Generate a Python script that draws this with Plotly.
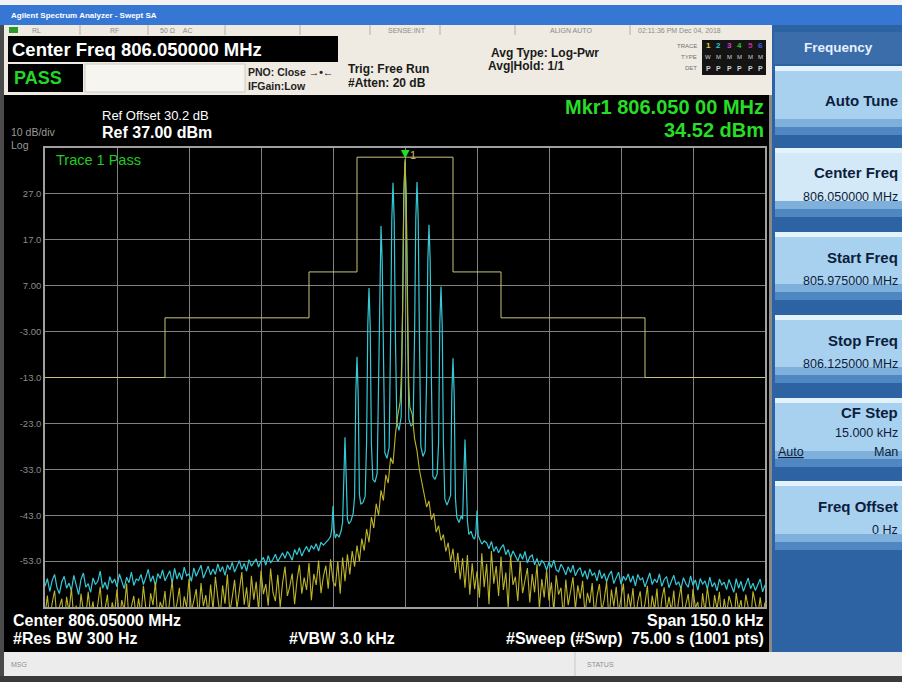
import numpy as np
import plotly.graph_objects as go

# ---------------- data (frequency offset from 806.05 MHz in kHz, level in dBm) ----------------
x_range_khz = [-75, 75]
x_grid_khz = [-60, -45, -30, -15, 0, 15, 30, 45, 60]
y_range_dbm = [-63, 37]
y_tick_vals = [27, 17, 7, -3, -13, -23, -33, -43, -53]
y_tick_text = ["27.0", "17.0", "7.00", "-3.00", "-13.0", "-23.0", "-33.0", "-43.0", "-53.0"]

limit_khz = [-75, -50, -50, -20, -20, -10, -10, 10, 10, 20, 20, 50, 50, 75]
limit_dbm = [-13, -13, 0, 0, 10, 10, 35, 35, 10, 10, 0, 0, -13, -13]

marker_khz = 0.0
marker_dbm = 34.52

# cyan trace: left skirt (-75 .. -17 kHz, 0.5 kHz steps)
cyan_left_dbm = [
    -58.5, -56.8, -59.6, -57.2, -55.9, -58.8, -60.1, -57.5, -56.3, -58.9,
    -57.8, -59.4, -56.1, -58.2, -60.3, -57.0, -55.6, -58.7, -57.9, -59.8,
    -56.7, -58.1, -57.4, -55.2, -58.9, -57.6, -59.2, -56.4, -57.8, -56.9,
    -58.6, -55.8, -57.3, -59.0, -56.5, -57.7, -55.4, -58.3, -56.9, -57.2,
    -55.9, -58.1, -56.6, -54.8, -57.5, -56.2, -58.4, -55.7, -56.8, -54.9,
    -57.3, -56.0, -55.1, -57.8, -54.6, -56.9, -55.5, -57.1, -54.3, -56.2,
    -55.8, -57.4, -54.5, -56.3, -55.0, -53.9, -56.7, -55.2, -54.1, -56.0,
    -54.7, -55.9, -53.6, -55.3, -54.2, -56.1, -53.8, -54.9, -53.3, -55.4,
    -54.0, -52.9, -54.8, -53.5, -55.2, -52.7, -54.1, -53.2, -52.5, -54.3,
    -53.0, -52.2, -53.9, -51.8, -53.4, -52.6, -51.5, -53.1, -52.0, -51.2,
    -52.4, -50.9, -51.7, -52.8, -50.5, -51.6, -50.1, -51.9, -50.7, -49.8,
    -51.0, -49.6, -50.4, -49.2, -50.8, -48.9, -49.5,
]
# cyan trace: comb of spectral lines (explicit points)
cyan_center_khz = [
    -16.5, -16.0, -15.5, -15.25, -15.0, -14.75, -14.5, -14.2, -13.75, -13.3,
    -13.0, -12.75, -12.5, -12.25, -12.0, -11.7, -11.25, -10.8, -10.5, -10.25,
    -10.0, -9.75, -9.5, -9.2, -8.75, -8.3, -8.0, -7.75, -7.5, -7.25,
    -7.0, -6.7, -6.25, -5.8, -5.5, -5.25, -5.0, -4.75, -4.5, -4.2,
    -3.75, -3.3, -3.0, -2.75, -2.5, -2.25, -2.0, -1.7, -1.25, -0.8,
    -0.5, -0.25, 0.0, 0.25, 0.5, 0.8, 1.25, 1.7, 2.0, 2.25,
    2.5, 2.75, 3.0, 3.3, 3.75, 4.2, 4.5, 4.75, 5.0, 5.25,
    5.5, 5.8, 6.25, 6.7, 7.0, 7.25, 7.5, 7.75, 8.0, 8.3,
    8.75, 9.2, 9.5, 9.75, 10.0, 10.25, 10.5, 10.8, 11.25, 11.7,
    12.0, 12.25, 12.5, 12.75, 13.0, 13.3, 13.75, 14.2, 14.5, 14.75,
    15.0, 15.25, 15.5, 16.0, 16.5,
]
cyan_center_dbm = [
    -49.0, -48.4, -47.6, -46.0, -41.0, -46.3, -48.0, -47.1, -47.8, -46.4,
    -44.5, -34.0, -26.0, -34.5, -43.8, -44.9, -44.2, -42.6, -39.0, -16.5,
    -8.5, -16.8, -38.5, -40.6, -40.2, -38.9, -27.0, -1.5, 6.5, -1.8,
    -27.5, -35.2, -35.8, -33.9, -13.0, 12.0, 20.0, 12.2, -13.5, -29.4,
    -30.6, -28.2, -3.8, 21.4, 29.4, 21.3, -4.0, -22.8, -24.5, -21.6,
    1.5, 26.5, 34.0, 26.4, 1.2, -22.0, -23.6, -23.1, -3.2, 21.6,
    29.6, 21.5, -3.6, -28.0, -30.2, -29.0, -13.2, 12.3, 20.3, 12.1,
    -13.4, -34.5, -35.2, -34.0, -27.2, -1.2, 6.8, -1.5, -27.4, -39.5,
    -40.8, -39.6, -38.7, -16.9, -8.8, -16.6, -39.2, -43.5, -44.6, -43.2,
    -43.9, -34.6, -26.5, -34.3, -44.2, -47.2, -46.5, -47.9, -48.2, -47.0,
    -42.0, -47.4, -48.1, -49.3, -48.6,
]
# cyan trace: right skirt (17 .. 75 kHz)
cyan_right_dbm = [
    -49.0, -50.3, -48.7, -50.9, -49.8, -51.2, -50.1, -49.4, -51.6, -50.5,
    -52.3, -50.8, -51.9, -53.0, -51.4, -52.6, -50.9, -53.4, -52.1, -51.7,
    -53.8, -52.4, -54.1, -52.9, -53.5, -55.0, -53.2, -54.4, -52.8, -54.9,
    -55.3, -53.7, -54.6, -56.0, -54.2, -55.5, -53.9, -56.2, -55.0, -54.4,
    -56.4, -55.1, -57.0, -54.7, -56.1, -55.6, -57.3, -54.9, -56.8, -55.7,
    -57.5, -56.0, -55.2, -57.9, -56.6, -55.4, -58.0, -56.3, -57.2, -55.8,
    -57.6, -56.2, -58.4, -55.9, -57.1, -56.7, -58.6, -57.3, -55.6, -58.1,
    -56.9, -57.7, -55.8, -58.5, -57.0, -56.4, -58.8, -57.4, -56.1, -58.2,
    -57.5, -59.0, -56.6, -57.9, -58.7, -56.2, -58.3, -57.1, -59.3, -56.8,
    -58.0, -57.3, -59.1, -56.5, -58.6, -57.7, -59.5, -56.9, -58.2, -57.6,
    -59.2, -57.0, -58.5, -59.8, -56.8, -58.9, -57.4, -59.6, -58.1, -56.7,
    -59.0, -57.8, -59.4, -58.3, -56.9, -59.7, -58.2,
]

# yellow trace (Trace 1): left (-75 .. -15 kHz, 0.5 kHz steps)
yellow_left_dbm = [
    -64.8, -60.5, -66.2, -62.1, -59.4, -65.7, -63.0, -61.2, -67.0, -60.8,
    -64.1, -58.9, -65.5, -62.7, -66.8, -60.1, -63.9, -65.2, -59.7, -64.6,
    -61.8, -66.5, -62.4, -58.6, -65.1, -63.5, -60.3, -66.9, -62.0, -64.3,
    -59.2, -65.8, -61.5, -63.7, -57.9, -66.0, -62.9, -60.6, -65.3, -61.1,
    -64.7, -58.4, -63.2, -66.3, -60.0, -62.6, -57.6, -65.6, -61.9, -63.4,
    -59.5, -66.1, -61.3, -57.3, -64.4, -62.2, -58.8, -65.9, -60.7, -63.1,
    -56.9, -64.0, -61.6, -59.1, -65.4, -57.8, -62.8, -60.4, -64.9, -58.1,
    -63.6, -56.4, -61.0, -65.0, -58.3, -62.3, -55.9, -64.2, -60.9, -57.1,
    -63.3, -59.6, -55.4, -62.5, -58.7, -64.5, -56.2, -61.4, -57.5, -63.8,
    -55.1, -60.2, -58.0, -62.7, -54.6, -59.9, -61.7, -56.0, -63.0, -57.7,
    -54.2, -60.6, -58.5, -55.7, -62.4, -57.2, -53.8, -60.1, -56.6, -59.3,
    -53.4, -61.5, -55.8, -58.2, -52.9, -60.0, -56.3, -54.0, -59.0, -52.6, -57.4,
]
yellow_center_khz = [
    -14.5, -14.0, -13.5, -13.0, -12.5, -12.0, -11.5, -11.0, -10.5, -10.0,
    -9.5, -9.0, -8.5, -8.0, -7.5, -7.0, -6.5, -6.0, -5.5, -5.0,
    -4.5, -4.0, -3.5, -3.0, -2.5, -2.0, -1.5, -1.0, -0.75, -0.5,
    -0.25, 0.0, 0.25, 0.5, 0.75, 1.0, 1.5, 2.0, 2.5, 3.0,
    3.5, 4.0, 4.5, 5.0, 5.5, 6.0, 6.5, 7.0, 7.5, 8.0,
    8.5, 9.0, 9.5, 10.0, 10.5, 11.0, 11.5, 12.0, 12.5, 13.0,
    13.5, 14.0, 14.5,
]
yellow_center_dbm = [
    -58.5, -53.0, -60.1, -52.2, -57.4, -51.5, -55.9, -50.8, -54.2, -49.6,
    -53.0, -48.1, -50.7, -46.0, -48.9, -43.4, -45.8, -40.5, -43.0, -37.6,
    -39.8, -34.2, -36.0, -30.5, -31.8, -25.4, -21.2, -18.3, -12.0, 1.8,
    26.8, 34.52, 26.2, 0.9, -13.5, -19.4, -21.0, -26.3, -29.0, -33.1,
    -35.8, -38.4, -41.2, -39.9, -44.0, -42.6, -46.7, -45.3, -48.5, -47.2,
    -50.9, -49.0, -53.1, -50.3, -55.6, -51.2, -57.0, -52.4, -58.8, -51.7,
    -60.3, -53.5, -59.1,
]
yellow_right_dbm = [
    -55.2, -61.0, -51.3, -58.7, -53.6, -62.4, -50.8, -57.9, -54.1, -60.6,
    -52.0, -59.3, -55.5, -63.1, -51.9, -58.2, -56.4, -61.7, -53.0, -60.0,
    -57.2, -54.5, -62.0, -55.8, -59.8, -53.7, -63.4, -56.9, -60.9, -55.0,
    -61.6, -57.6, -64.0, -56.1, -60.3, -58.8, -65.2, -57.0, -62.6, -59.5,
    -56.5, -63.5, -58.3, -61.2, -57.3, -64.6, -59.9, -62.1, -57.8, -65.0,
    -60.7, -58.0, -63.8, -61.4, -57.5, -66.0, -59.2, -62.9, -58.6, -64.3,
    -61.0, -57.9, -65.5, -60.1, -63.0, -58.9, -66.3, -61.8, -59.6, -64.8,
    -62.2, -58.4, -65.7, -60.5, -63.6, -59.0, -66.6, -61.3, -58.7, -64.0,
    -60.8, -63.9, -59.4, -66.1, -61.6, -58.5, -64.7, -62.5, -60.2, -65.3,
    -59.1, -63.2, -61.9, -66.8, -60.0, -64.1, -58.8, -62.8, -65.9, -60.4,
    -63.5, -59.7, -66.4, -61.2, -64.5, -60.6, -62.4, -67.0, -59.9, -63.7,
    -61.5, -65.6, -60.3, -63.0, -66.2, -59.6, -62.7, -64.9, -60.9, -65.1, -62.0,
]

# ---------------- assemble traces ----------------
cyan_x = np.concatenate([np.linspace(-75, -17, len(cyan_left_dbm)),
                         np.array(cyan_center_khz),
                         np.linspace(17, 75, len(cyan_right_dbm))])
cyan_y = np.concatenate([cyan_left_dbm, cyan_center_dbm, cyan_right_dbm])
yel_x = np.concatenate([np.linspace(-75, -15, len(yellow_left_dbm)),
                        np.array(yellow_center_khz),
                        np.linspace(15, 75, len(yellow_right_dbm))])
yel_y = np.concatenate([yellow_left_dbm, yellow_center_dbm, yellow_right_dbm])

FONT = "Liberation Sans"
FW, FH = 902, 682
L, R, T, B = 45, 765, 148, 607
W, H = R - L, B - T


def px(x):
    return (x - L) / W


def py(y):
    return (B - y) / H


shapes = []
annotations = []


def rect(x0, y0, x1, y1, color, lc=None, lw=0):
    shapes.append(dict(type="rect", xref="paper", yref="paper",
                       x0=px(x0), x1=px(x1), y0=py(y1), y1=py(y0),
                       fillcolor=color, line=dict(color=lc or color, width=lw),
                       layer="above"))


def vline(x, y0, y1, color, w=1):
    shapes.append(dict(type="line", xref="paper", yref="paper",
                       x0=px(x), x1=px(x), y0=py(y1), y1=py(y0),
                       line=dict(color=color, width=w)))


def txt(x, y, s, size, color, anchor="left", bold=False):
    annotations.append(dict(xref="paper", yref="paper", x=px(x), y=py(y),
                            text=("<b>%s</b>" % s) if bold else s,
                            showarrow=False, xanchor=anchor, yanchor="middle",
                            font=dict(family=FONT, size=size, color=color)))


fig = go.Figure()
fig.add_trace(go.Scatter(x=limit_khz, y=limit_dbm, mode="lines",
                         line=dict(color="#c9c27a", width=1), hoverinfo="skip"))
fig.add_trace(go.Scatter(x=cyan_x, y=cyan_y, mode="lines",
                         line=dict(color="#35c9d6", width=1.2), hoverinfo="skip"))
fig.add_trace(go.Scatter(x=yel_x, y=yel_y, mode="lines",
                         line=dict(color="#bdb42a", width=1.1), hoverinfo="skip"))

# marker
annotations.append(dict(x=marker_khz, y=marker_dbm, xref="x", yref="y", text="▼",
                        showarrow=False, yanchor="bottom", yshift=-3,
                        font=dict(family="DejaVu Sans", size=11, color="#22e022")))
annotations.append(dict(x=marker_khz, y=marker_dbm, xref="x", yref="y", text="1",
                        showarrow=False, xanchor="left", yanchor="bottom", xshift=3, yshift=-4,
                        font=dict(family=FONT, size=11, color="#c9c070")))

# ---------------- chrome ----------------
rect(0, 0, FW, 5, "#f2f2f2")
rect(0, 5, FW, 25, "#3677d4")
txt(9, 15, "Agilent Spectrum Analyzer - Swept SA", 8, "#ffffff", bold=True)
rect(0, 25, 4, FH, "#4a4a4a")
# status row
rect(4, 25, 772, 35, "#efebe2")
rect(9, 27, 18, 33, "#2a9a2a")
for sx in [80, 148, 225, 300, 370, 440, 515, 630]:
    vline(sx, 25, 35, "#b5b0a5")
for sx, s in [(30, "RL"), (108, "RF"), (158, "50 Ω    AC"), (386, "SENSE:INT"),
              (548, "ALIGN AUTO"), (636, "02:11:36 PM Dec 04, 2018")]:
    txt(sx, 30, s, 7, "#8a8a8a")
# header
rect(4, 35, 772, 95, "#efebe2")
rect(85, 64, 245, 92, "#f7f5f0", "#cfcac0", 1)
rect(8, 36, 338, 62, "#000000")
txt(10, 49, "Center Freq 806.050000 MHz", 18.5, "#ffffff", bold=True)
rect(8, 64, 83, 92, "#000000")
txt(12, 78, "PASS", 18, "#26d626", bold=True)
txt(246, 72, "PNO: Close →•←", 10.5, "#222222", bold=True)
txt(246, 86, "IFGain:Low", 10.5, "#222222", bold=True)
txt(346, 69, "Trig: Free Run", 12, "#1a1a1a", bold=True)
txt(346, 83, "#Atten: 20 dB", 12, "#1a1a1a", bold=True)
txt(489, 53, "Avg Type: Log-Pwr", 12, "#1a1a1a", bold=True)
txt(486, 66, "Avg|Hold: 1/1", 12, "#1a1a1a", bold=True)
txt(699, 46, "TRACE", 6, "#707070", anchor="right")
txt(699, 57, "TYPE", 6, "#707070", anchor="right")
txt(699, 68, "DET", 6, "#707070", anchor="right")
rect(702, 40, 766, 75, "#141414")
trace_cols = ["#e0d040", "#30c8d0", "#d040d0", "#30c030", "#c03090", "#4060e0"]
for i, c in enumerate(trace_cols):
    xx = 708 + i * 10.5
    txt(xx, 46, str(i + 1), 8, c, anchor="center", bold=True)
    txt(xx, 57, "W" if i == 0 else "M", 6, "#d0d0d0", anchor="center")
    txt(xx, 68, "P", 7, "#d0d0d0", anchor="center", bold=True)

# main black area labels
txt(100, 116, "Ref Offset 30.2 dB", 13, "#ffffff")
txt(100, 133, "Ref 37.00 dBm", 16, "#ffffff", bold=True)
txt(9, 132, "10 dB/div", 10.5, "#9a9a9a")
txt(9, 145, "Log", 10.5, "#9a9a9a")
txt(766, 107, "Mkr1 806.050 00 MHz", 20, "#27dd27", anchor="right", bold=True)
txt(766, 130, "34.52 dBm", 20, "#27dd27", anchor="right", bold=True)
txt(54, 160, "Trace 1 Pass", 14.5, "#22cc22")
txt(11, 620, "Center 806.05000 MHz", 16, "#ffffff", bold=True)
txt(11, 638, "#Res BW 300 Hz", 16, "#ffffff", bold=True)
txt(287, 638, "#VBW 3.0 kHz", 16, "#ffffff", bold=True)
txt(766, 620, "Span 150.0 kHz", 16, "#ffffff", anchor="right", bold=True)
txt(766, 638, "#Sweep (#Swp)  75.00 s (1001 pts)", 16, "#ffffff", anchor="right", bold=True)

# right softkey panel
rect(769, 95, 772, 652, "#8a8a8a")
rect(772, 25, FW, 652, "#2d62a3")
rect(774, 32, FW, 64, "#3a6daa")
txt(838, 48, "Frequency", 13.5, "#e8f0ff", anchor="center", bold=True)
buttons = [
    (66, 135, "Auto Tune", None, False),
    (148, 217, "Center Freq", "806.050000 MHz", True),
    (232, 300, "Start Freq", "805.975000 MHz", False),
    (315, 383, "Stop Freq", "806.125000 MHz", False),
    (398, 467, "CF Step", "15.000 kHz", False),
    (481, 550, "Freq Offset", "0 Hz", False),
]
RX = 900
for y0, y1, t1, t2, hi in buttons:
    base = "#d3e9f8" if hi else "#a8d0ef"
    rect(775, y0, FW, y1, base)
    rect(775, y0, FW, y0 + 5, "#e4f2fb")
    rect(775, y1 - 16, FW, y1 - 8, "#7fb0dc")
    rect(775, y1 - 8, FW, y1, "#4f87c2")
    if t2 is None:
        txt(RX, (y0 + y1) / 2, t1, 15, "#0c1e3c", anchor="right", bold=True)
    elif t1 == "CF Step":
        txt(RX, y0 + 14, t1, 15, "#0c1e3c", anchor="right", bold=True)
        txt(RX, y0 + 35, t2, 12.5, "#0c1e3c", anchor="right")
        txt(776, y0 + 54, "<u>Auto</u>", 12.5, "#0c1e3c")
        txt(RX, y0 + 54, "Man", 12.5, "#0c1e3c", anchor="right")
    else:
        txt(RX, y0 + 25, t1, 15, "#0c1e3c", anchor="right", bold=True)
        txt(RX, y0 + 49, t2, 12.5, "#0c1e3c", anchor="right")

# bottom status bar
rect(4, 652, FW, 676, "#ececec")
vline(575, 652, 676, "#c8c8c8")
txt(9, 664, "MSG", 7, "#909090")
txt(585, 664, "STATUS", 7, "#909090")
rect(0, 676, FW, FH, "#3a3a3a")

fig.update_layout(
    width=FW, height=FH,
    margin=dict(l=L, r=FW - R, t=T, b=FH - B, pad=0),
    paper_bgcolor="#000000", plot_bgcolor="#000000",
    showlegend=False,
    shapes=shapes, annotations=annotations,
    font=dict(family=FONT),
)
fig.update_xaxes(range=x_range_khz, tickvals=x_grid_khz, showticklabels=False,
                 showgrid=True, gridcolor="#808080", gridwidth=1, zeroline=False,
                 showline=True, linecolor="#a0a0a0", linewidth=1.5, mirror=True, ticks="")
fig.update_yaxes(range=y_range_dbm, tickvals=y_tick_vals, ticktext=y_tick_text,
                 showgrid=True, gridcolor="#808080", gridwidth=1, zeroline=False,
                 showline=True, linecolor="#a0a0a0", linewidth=1.5, mirror=True, ticks="",
                 tickfont=dict(family=FONT, size=9.5, color="#8c8c8c"))

fig.write_html("out.html", config={"displayModeBar": False},
               post_script="document.body.style.margin='0';document.body.style.overflow='hidden';")
